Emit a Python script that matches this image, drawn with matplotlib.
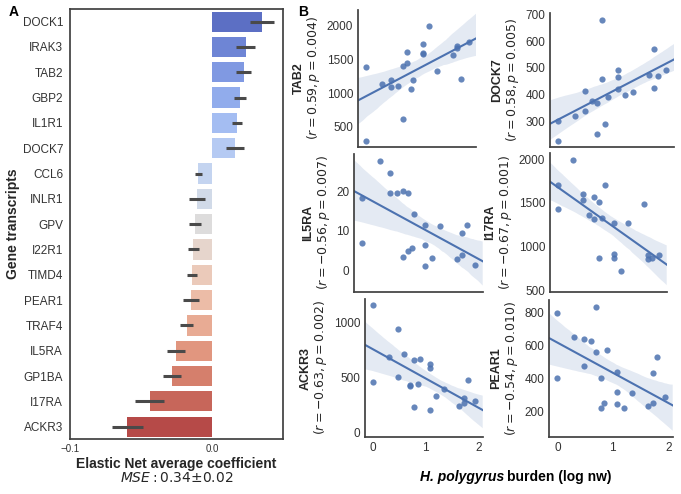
import numpy as np
import matplotlib
matplotlib.use("Agg")
import matplotlib.pyplot as plt
import seaborn as sns

plt.rcParams['font.family'] = ['Liberation Sans', 'DejaVu Sans']
plt.rcParams['axes.edgecolor'] = '.25'
plt.rcParams['axes.linewidth'] = 1.25
plt.rcParams['xtick.major.size'] = 0
plt.rcParams['ytick.major.size'] = 0
plt.rcParams['xtick.color'] = '.2'
plt.rcParams['ytick.color'] = '.2'
plt.rcParams['axes.labelcolor'] = '.15'

# ---------------- Panel A data ----------------
genes = ["DOCK1", "IRAK3", "TAB2", "GBP2", "IL1R1", "DOCK7", "CCL6", "INLR1", "GPV",
         "I22R1", "TIMD4", "PEAR1", "TRAF4", "IL5RA", "GP1BA", "I17RA", "ACKR3"]
coef = [0.0352, 0.0237, 0.0223, 0.0197, 0.0178, 0.0162, -0.0096, -0.0106, -0.0120,
        -0.0131, -0.0141, -0.0148, -0.0178, -0.0254, -0.0282, -0.0439, -0.0596]
coef_err = [0.0086, 0.0068, 0.0055, 0.0045, 0.0036, 0.0065, 0.0027, 0.0055, 0.0042,
            0.0038, 0.0034, 0.0058, 0.0045, 0.0066, 0.0066, 0.0102, 0.0108]
xticks_A = [-0.1, 0.0]

# ---------------- Panel B data ----------------
burden = [0.0, 0.0, 0.30, 0.48, 0.48, 0.60, 0.70, 0.70, 0.78, 0.78, 0.85, 0.90,
          1.08, 1.08, 1.08, 1.20, 1.34, 1.64, 1.72, 1.72, 1.80, 1.94]
tab2 = [1391, 292, 1130, 1198, 1094, 1109, 1406, 619, 1609, 1446, 1064, 1194,
        1728, 1575, 1590, 2000, 1323, 1565, 1664, 1703, 1204, 1762]
dock7 = [301, 228, 322, 415, 338, 377, 370, 253, 679, 460, 292, 393,
         493, 468, 420, 398, 409, 474, 569, 426, 471, 491]
il5ra = [18.2, 7.0, 27.5, 24.5, 19.5, 19.5, 20.1, 3.4, 19.6, 4.9, 5.6, 14.2,
         11.5, 6.5, 1.1, 3.1, 11.1, 3.0, 9.5, 4.0, 11.4, 1.5]
i17ra = [1705, 1430, 1988, 1598, 1533, 1361, 1564, 1311, 1507, 864, 1330, 1701,
         1269, 910, 864, 722, 1272, 1487, 898, 852, 871, 898]
ackr3 = [1154, 456, 686, 940, 505, 716, 432, 426, 659, 230, 438, 665,
         619, 586, 208, 332, 396, 245, 317, 266, 477, 287]
pear1 = [798, 401, 653, 641, 476, 629, 834, 560, 401, 220, 250, 572,
         441, 321, 246, 222, 311, 232, 431, 252, 532, 286]

b_genes = ["TAB2", "DOCK7", "IL5RA", "I17RA", "ACKR3", "PEAR1"]
b_values = [tab2, dock7, il5ra, i17ra, ackr3, pear1]
b_r = ["0.59", "0.58", "-0.56", "-0.67", "-0.63", "-0.54"]
b_p = ["0.004", "0.005", "0.007", "0.001", "0.002", "0.010"]
b_yticks = [[500, 1000, 1500, 2000], [300, 400, 500, 600, 700], [0, 10, 20],
            [500, 1000, 1500, 2000], [0, 500, 1000], [200, 400, 600, 800]]
b_ylims = [(203, 2233), (207, 703), (-5.3, 29.3), (481, 2072), (-36, 1208), (48, 874)]
b_xlim = (-0.145, 2.08)
b_xticks = [0, 1, 2]

W, H = 681, 494
fig = plt.figure(figsize=(W / 100, H / 100), dpi=100)


def rect(l, r, t, b):
    return [l / W, 1 - b / H, (r - l) / W, (b - t) / H]


# ---------------- Panel A ----------------
axA = fig.add_axes(rect(70, 283, 9, 439.3))
pal = [sns.desaturate(c, 0.75) for c in sns.color_palette("coolwarm", len(genes))]
ypos = np.arange(len(genes))
axA.barh(ypos, coef, height=0.8, color=pal, edgecolor='none')
axA.errorbar(coef, ypos, xerr=coef_err, fmt='none', ecolor='#4a4a4a', elinewidth=2.2,
             capsize=0)
axA.set_ylim(len(genes) - 0.5, -0.5)
axA.set_xlim(-0.1, 0.05)
axA.set_xticks(xticks_A)
axA.set_xticklabels(["\u22120.1", "0.0"], fontsize=7)
axA.set_yticks(ypos)
axA.set_yticklabels(genes, fontsize=8.5)
axA.tick_params(axis='y', pad=5)
axA.set_ylabel("Gene transcripts", fontsize=10, fontweight='bold', labelpad=2)
axA.set_xlabel("Elastic Net average coefficient\n$MSE: 0.34{\\pm}0.02$", fontsize=10,
               fontweight='bold', labelpad=2, linespacing=1.05)
fig.text(9 / W, 1 - 12 / H, "A", fontsize=10, fontweight='bold', va='center', ha='left')

# ---------------- Panel B ----------------
b_rects = [(358, 476, 10, 146.7), (550, 674, 13.3, 146.7),
           (354, 482.7, 154, 291.7), (550, 666.7, 153, 291.7),
           (365, 482.7, 299.3, 436.7), (549.3, 672.7, 300, 436.7)]
blue = "#4c72b0"
b_axes = []
for i, g in enumerate(b_genes):
    ax = fig.add_axes(rect(*b_rects[i]))
    ax.set_xlim(*b_xlim)
    ax.set_ylim(*b_ylims[i])
    ax.set_autoscale_on(False)
    sns.regplot(x=np.array(burden), y=np.array(b_values[i], dtype=float), ax=ax,
                color=blue, truncate=False, seed=0,
                scatter_kws={'s': 20, 'alpha': 0.85, 'linewidths': 0},
                line_kws={'lw': 1.5})
    ax.set_xlim(*b_xlim)
    ax.set_ylim(*b_ylims[i])
    ax.set_yticks(b_yticks[i])
    ax.set_xticks(b_xticks)
    ax.tick_params(labelsize=8.5)
    if i < 4:
        ax.set_xticklabels([])
    for s in ['top', 'right']:
        ax.spines[s].set_visible(False)
    ax.set_ylabel("$(r=" + b_r[i] + ", p=" + b_p[i] + ")$", fontsize=9, labelpad=3)
    ax.set_xlabel("")
    b_axes.append(ax)

# gene names as a bold line to the left of each stat label
fig.canvas.draw()
for ax, g in zip(b_axes, b_genes):
    bb = ax.yaxis.label.get_window_extent()
    xc = (bb.x0 + bb.x1) / 2 - 15.5
    yc = (bb.y0 + bb.y1) / 2
    fig.text(xc / W, yc / H, g, rotation=90, fontsize=9, fontweight='bold',
             color='.15', ha='center', va='center')

fig.text(298 / W, 1 - 12 / H, "B", fontsize=10, fontweight='bold', va='center', ha='left')
fig.text(504 / W, 1 - 477 / H, "H. polygyrus", fontsize=10, fontweight='bold',
         fontstyle='italic', ha='right', va='center')
fig.text(507 / W, 1 - 477 / H, "burden (log nw)", fontsize=10, fontweight='bold',
         ha='left', va='center')

fig.savefig("out.png", dpi=100)
